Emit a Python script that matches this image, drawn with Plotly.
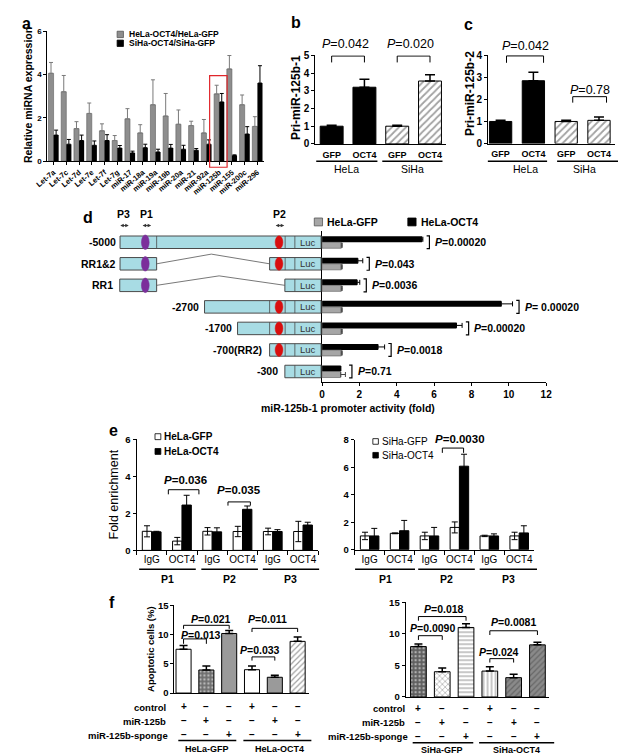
import plotly.graph_objects as go

W, H = 626, 756
FONT = "Liberation Sans, Arial, Helvetica, sans-serif"

# ---------------- data ----------------
# panel a
mirnas = ['Let-7a', 'Let-7c', 'Let-7d', 'Let-7e', 'Let-7f', 'Let-7g', 'miR-17', 'miR-18a',
          'miR-19a', 'miR-19b', 'miR-20a', 'miR-21', 'miR-92a', 'miR-125b', 'miR-155',
          'miR-200c', 'miR-296']
hela_ratio = [4.05, 3.2, 1.5, 2.2, 1.4, 0.95, 1.95, 1.3, 2.6, 2.08, 1.7, 1.64, 1.3, 3.1, 4.25, 2.6, 1.6]
hela_ratio_err = [0.5, 0.75, 0.32, 0.48, 0.32, 0.23, 0.47, 0.38, 1.15, 1.04, 0.66, 0.2, 0.62, 0.4, 0.62, 0.45, 0.45]
siha_ratio = [1.2, 0.78, 0.95, 0.73, 0.95, 0.6, 0.38, 0.62, 0.42, 0.6, 0.55, 0.5, 0.78, 2.73, 0.26, 1.25, 3.6]
siha_ratio_err = [0.23, 0.22, 0.25, 0.2, 0.27, 0.12, 0.08, 0.16, 0.13, 0.17, 0.18, 0.08, 0.2, 0.39, 0.03, 0.34, 0.8]

# panels b and c
bc_conditions = ['HeLa GFP', 'HeLa OCT4', 'SiHa GFP', 'SiHa OCT4']
bc_ticks = ['GFP', 'OCT4', 'GFP', 'OCT4']
pri1_vals = [1.0, 3.2, 1.0, 3.55]
pri1_err = [0.05, 0.45, 0.05, 0.35]
pri2_vals = [1.0, 2.84, 1.0, 1.05]
pri2_err = [0.05, 0.38, 0.05, 0.15]
pri1_p = ['0.042', '0.020']
pri2_p = ['0.042', '0.78']

# panel d
constructs = ['-5000', 'RR1&2', 'RR1', '-2700', '-1700', '-700(RR2)', '-300']
d_gfp = [1.03, 1.03, 1.03, 1.03, 1.03, 1.03, 1.0]
d_gfp_err = [0.05, 0.05, 0.05, 0.05, 0.05, 0.05, 0.25]
d_oct4 = [5.35, 1.92, 1.88, 9.6, 7.2, 3.0, 1.0]
d_oct4_err = [0.05, 0.26, 0.14, 0.6, 0.3, 0.35, 0.0]
d_p = ['0.00020', '0.043', '0.0036', ' 0.00020', '0.00020', '0.0018', '0.71']

# panel e
chip_cats = ['P1 IgG', 'P1 OCT4', 'P2 IgG', 'P2 OCT4', 'P3 IgG', 'P3 OCT4']
chip_ticks = ['IgG', 'OCT4', 'IgG', 'OCT4', 'IgG', 'OCT4']
chip_groups = ['P1', 'P2', 'P3']
hela_gfp_chip = [1.03, 0.5, 1.03, 1.02, 1.02, 1.02]
hela_gfp_chip_err = [0.3, 0.2, 0.2, 0.28, 0.18, 0.55]
hela_oct4_chip = [1.0, 2.45, 1.0, 2.22, 1.02, 1.37]
hela_oct4_chip_err = [0.03, 0.53, 0.22, 0.18, 0.1, 0.15]
siha_gfp_chip = [1.0, 1.19, 1.0, 1.62, 1.0, 1.0]
siha_gfp_chip_err = [0.27, 0.03, 0.27, 0.4, 0.05, 0.27]
siha_oct4_chip = [1.0, 1.38, 1.0, 6.08, 1.0, 1.22]
siha_oct4_chip_err = [0.55, 0.75, 0.62, 0.87, 0.15, 0.52]

# panel f
apo_rows = ['control', 'miR-125b', 'miR-125b-sponge']
apo_hela_cats = ['HeLa-GFP control', 'HeLa-GFP miR-125b', 'HeLa-GFP sponge',
                 'HeLa-OCT4 control', 'HeLa-OCT4 miR-125b', 'HeLa-OCT4 sponge']
apo_siha_cats = ['SiHa-GFP control', 'SiHa-GFP miR-125b', 'SiHa-GFP sponge',
                 'SiHa-OCT4 control', 'SiHa-OCT4 miR-125b', 'SiHa-OCT4 sponge']
apo_hela = [7.5, 3.95, 10.2, 4.0, 2.7, 8.85]
apo_hela_err = [0.65, 0.7, 0.5, 0.65, 0.35, 0.75]
apo_siha = [7.98, 4.0, 11.0, 4.1, 3.06, 8.25]
apo_siha_err = [0.42, 0.6, 0.6, 0.67, 0.52, 0.42]
sign_control = ['+', '\u2212', '\u2212', '+', '\u2212', '\u2212']
sign_mir = ['\u2212', '+', '\u2212', '\u2212', '+', '\u2212']
sign_sponge = ['\u2212', '\u2212', '+', '\u2212', '\u2212', '+']

# ---------------- helpers ----------------
def dx(a, b):
    return [a / W, b / W]

def dy(top, bottom):
    return [1 - bottom / H, 1 - top / H]

def px(x):
    return x / W

def py(y):
    return 1 - y / H

shapes = []
ann = []

def text(x, y, s, size=10, bold=True, xanchor='center', yanchor='middle',
         xref='paper', yref='paper', angle=0, color='black'):
    if xref == 'paper':
        x = px(x)
    if yref == 'paper':
        y = py(y)
    ann.append(dict(x=x, y=y, xref=xref, yref=yref, text=s, showarrow=False,
                    xanchor=xanchor, yanchor=yanchor, textangle=angle, borderpad=0,
                    font=dict(family=FONT, size=size, color=color,
                              weight='bold' if bold else 'normal')))

def darrow(xc, yc, half=5):
    ann.append(dict(x=px(xc + half), y=py(yc), xref='paper', yref='paper', text='',
                    showarrow=True, ax=-2 * half, ay=0, axref='pixel', ayref='pixel',
                    arrowhead=2, arrowside='end+start', arrowsize=0.7, arrowwidth=1,
                    arrowcolor='#333333', standoff=0, startstandoff=0))

def pline(x0, y0, x1, y1, width=1.0, color='black'):
    shapes.append(dict(type='line', xref='paper', yref='paper', layer='above',
                       x0=px(x0), y0=py(y0), x1=px(x1), y1=py(y1),
                       line=dict(color=color, width=width)))

def prect(x0, y0, x1, y1, fill, line='black', width=0.8):
    shapes.append(dict(type='rect', xref='paper', yref='paper', layer='above',
                       x0=px(x0), y0=py(y1), x1=px(x1), y1=py(y0),
                       fillcolor=fill, line=dict(color=line, width=width)))

def bracket(xref, yref, xa, xb, ytop, ybot, width=1.0):
    shapes.append(dict(type='path', xref=xref, yref=yref, layer='above',
                       path=f'M {xa},{ybot} L {xa},{ytop} L {xb},{ytop} L {xb},{ybot}',
                       line=dict(color='black', width=width)))

def yaxis(domain, rng, dtick, anchor, size=9):
    return dict(domain=domain, range=rng, dtick=dtick, tick0=0, anchor=anchor,
                showline=True, linecolor='black', linewidth=1, ticks='outside',
                ticklen=3, tickcolor='black', showgrid=False, zeroline=False,
                tickfont=dict(family=FONT, size=size, weight='bold', color='black'),
                fixedrange=True)

def xcat(domain, rng, anchor, **kw):
    d = dict(domain=domain, range=rng, anchor=anchor, type='category', showline=True,
             linecolor='black', linewidth=1, showgrid=False, zeroline=False,
             fixedrange=True)
    d.update(kw)
    return d

def up_err(err, color='black', width=4, thickness=1.2):
    return dict(type='data', array=err, arrayminus=[0] * len(err), symmetric=False,
                color=color, width=width, thickness=thickness)

fig = go.Figure()

# ---------------- panel a ----------------
fig.add_bar(x=mirnas, y=hela_ratio, xaxis='x', yaxis='y', width=0.4, offset=-0.4,
            marker=dict(color='#8e8e8e', line=dict(color='#5e5e5e', width=0.6)),
            error_y=up_err(hela_ratio_err, '#7a7a7a', 2, 1), showlegend=False)
fig.add_bar(x=mirnas, y=siha_ratio, xaxis='x', yaxis='y', width=0.4, offset=0,
            marker=dict(color='black', line=dict(width=0)),
            error_y=up_err(siha_ratio_err, 'black', 2, 1), showlegend=False)

# ---------------- panel b / c ----------------
bc_colors = ['black', 'black', 'white', 'white']
bc_pattern = dict(shape=['', '', '/', '/'], fgcolor='black', bgcolor=bc_colors,
                  size=5, solidity=0.35)
fig.add_bar(x=bc_conditions, y=pri1_vals, xaxis='x2', yaxis='y2', width=0.7,
            marker=dict(color=bc_colors, line=dict(color='black', width=1), pattern=bc_pattern),
            error_y=up_err(pri1_err, 'black', 5, 1.5), showlegend=False)
fig.add_bar(x=bc_conditions, y=pri2_vals, xaxis='x3', yaxis='y3', width=0.68,
            marker=dict(color=bc_colors, line=dict(color='black', width=1), pattern=bc_pattern),
            error_y=up_err(pri2_err, 'black', 5, 1.5), showlegend=False)

# ---------------- panel d ----------------
fig.add_bar(y=constructs, x=d_oct4, orientation='h', xaxis='x4', yaxis='y4',
            width=0.28, offset=-0.28, marker=dict(color='black', line=dict(width=0)),
            error_x=up_err(d_oct4_err, 'black', 2.5, 1), showlegend=False)
fig.add_bar(y=constructs, x=d_gfp, orientation='h', xaxis='x4', yaxis='y4',
            width=0.28, offset=0, marker=dict(color='#a6a6a6', line=dict(color='#555', width=0.6)),
            error_x=up_err(d_gfp_err, '#444', 2.5, 1), showlegend=False)

# ---------------- panel e ----------------
sym = lambda e: dict(type='data', array=e, symmetric=True, color='black', width=3, thickness=1)
fig.add_bar(x=chip_cats, y=hela_gfp_chip, xaxis='x6', yaxis='y6', width=0.31, offset=-0.31,
            marker=dict(color='white', line=dict(color='black', width=1)),
            error_y=sym(hela_gfp_chip_err), showlegend=False)
fig.add_bar(x=chip_cats, y=hela_oct4_chip, xaxis='x6', yaxis='y6', width=0.31, offset=0,
            marker=dict(color='black', line=dict(color='black', width=1)),
            error_y=sym(hela_oct4_chip_err), showlegend=False)
fig.add_bar(x=chip_cats, y=siha_gfp_chip, xaxis='x7', yaxis='y7', width=0.31, offset=-0.31,
            marker=dict(color='white', line=dict(color='black', width=1)),
            error_y=sym(siha_gfp_chip_err), showlegend=False)
fig.add_bar(x=chip_cats, y=siha_oct4_chip, xaxis='x7', yaxis='y7', width=0.31, offset=0,
            marker=dict(color='black', line=dict(color='black', width=1)),
            error_y=sym(siha_oct4_chip_err), showlegend=False)

# ---------------- panel f ----------------
fL_colors = ['white', '#6e6e6e', '#9a9a9a', 'white', '#9a9a9a', 'white']
fL_pat = dict(shape=['', '.', '', '', '', '/'], bgcolor=fL_colors,
              fgcolor=['black', '#333333', 'black', 'black', 'black', 'black'],
              size=4, solidity=0.3)
fig.add_bar(x=apo_hela_cats, y=apo_hela, xaxis='x8', yaxis='y8', width=0.66,
            marker=dict(color=fL_colors, line=dict(color='black', width=1), pattern=fL_pat),
            error_y=up_err(apo_hela_err, 'black', 4, 1.5), showlegend=False)
fR_colors = ['#5e5e5e', 'white', 'white', 'white', '#8a8a8a', '#8a8a8a']
fR_pat = dict(shape=['.', 'x', '-', '|', '/', '/'], bgcolor=fR_colors,
              fgcolor=['#222222', '#333333', '#8a8a8a', '#8a8a8a', '#555555', '#666666'],
              size=4, solidity=0.3)
fig.add_bar(x=apo_siha_cats, y=apo_siha, xaxis='x9', yaxis='y9', width=0.66,
            marker=dict(color=fR_colors, line=dict(color='black', width=1), pattern=fR_pat),
            error_y=up_err(apo_siha_err, 'black', 4, 1.5), showlegend=False)

# ---------------- axes ----------------
layout_axes = dict(
    xaxis=xcat(dx(28, 251), [-0.5, 16.5], 'y', ticks='outside', ticklen=3, tickcolor='black',
               tickangle=-40, tickfont=dict(family=FONT, size=7.5, weight='bold', color='black')),
    yaxis=yaxis(dy(17.3, 149.5), [0, 6], 2, 'x', 8),
    xaxis2=xcat(dx(304, 439), [-0.5, 3.5], 'y2', ticks='', tickvals=bc_conditions,
                ticktext=bc_ticks, ticklabelstandoff=2, tickangle=0,
                tickfont=dict(family=FONT, size=9, weight='bold', color='black')),
    yaxis2=yaxis(dy(42, 132), [0, 5], 1, 'x2', 10),
    xaxis3=xcat(dx(482, 613), [-0.38, 3.5], 'y3', ticks='', tickvals=bc_conditions,
                ticktext=bc_ticks, ticklabelstandoff=2, tickangle=0,
                tickfont=dict(family=FONT, size=9, weight='bold', color='black')),
    yaxis3=yaxis(dy(41.7, 131.7), [0, 4], 1, 'x3', 10),
    xaxis4=dict(domain=dx(311, 541.7), range=[0, 12], dtick=2, anchor='y4', showline=True,
                linecolor='black', ticks='outside', ticklen=3, tickcolor='black',
                showgrid=False, zeroline=False, fixedrange=True,
                tickfont=dict(family=FONT, size=10, weight='bold', color='black')),
    yaxis4=dict(domain=dy(221, 374.2), range=[len(constructs) - 0.5, -0.5], type='category',
                anchor='x4', showline=True, linecolor='black', showticklabels=False,
                ticks='', showgrid=False, zeroline=False, fixedrange=True),
    xaxis5=dict(domain=dx(0, 311), range=[0, 311], anchor='y4', visible=False, fixedrange=True),
    xaxis6=xcat(dx(120, 307), [-0.5, 5.5], 'y6', ticks='outside', tickson='boundaries',
                ticklen=4, tickcolor='black', tickvals=chip_cats, ticktext=chip_ticks,
                tickangle=0, tickfont=dict(family=FONT, size=10, color='black')),
    yaxis6=yaxis(dy(432.3, 545), [0, 6], 2, 'x6', 9.5),
    xaxis7=xcat(dx(344.6, 529.4), [-0.5, 5.5], 'y7', ticks='outside', tickson='boundaries',
                ticklen=4, tickcolor='black', tickvals=chip_cats, ticktext=chip_ticks,
                tickangle=0, tickfont=dict(family=FONT, size=10, color='black')),
    yaxis7=yaxis(dy(432.7, 544.3), [0, 8], 2, 'x7', 9.5),
    xaxis8=xcat(dx(159, 297.6), [-0.4, 5.5], 'y8', ticks='', showticklabels=False),
    yaxis8=yaxis(dy(601, 690), [0, 15], 5, 'x8', 9.5),
    xaxis9=xcat(dx(397, 545), [-0.54, 5.5], 'y9', ticks='', showticklabels=False),
    yaxis9=yaxis(dy(597.7, 694), [0, 15], 5, 'x9', 9.5),
)

# ---------------- panel a decorations ----------------
text(7, 10, 'a', 16)
text(7.5, 82, 'Relative miRNA expression', 10.5, angle=-90)
prect(100, 17.5, 106.5, 24, '#8e8e8e', '#555')
text(111, 20.8, 'HeLa-OCT4/HeLa-GFP', 8.5, xanchor='left')
prect(100, 26.5, 106.5, 33, 'black')
text(111, 29.5, 'SiHa-OCT4/SiHa-GFP', 8.5, xanchor='left')
shapes.append(dict(type='rect', xref='x', yref='y domain', layer='above',
                   x0=12.25, x1=13.62, y0=-0.047, y1=0.657,
                   line=dict(color='#e0262b', width=1.2), fillcolor='rgba(0,0,0,0)'))

# ---------------- panel b / c decorations ----------------
text(284, 9, 'b', 16)
text(283.5, 85, 'Pri-miR-125b-1', 12, angle=-90)
bracket('x2', 'y2', 0, 1, 4.96, 4.6)
bracket('x2', 'y2', 2, 3, 4.96, 4.6)
text(335.5, 30, f'<i>P</i>={pri1_p[0]}', 12.5, bold=False)
text(402, 30, f'<i>P</i>={pri1_p[1]}', 12.5, bold=False)
pline(305, 149.5, 368, 149.5, 1.5)
pline(373, 149.5, 435, 149.5, 1.5)
text(336.5, 158, 'HeLa', 10.5, bold=False)
text(404, 158, 'SiHa', 10.5, bold=False)

text(462, 11, 'c', 16)
text(463.5, 81, 'Pri-miR-125b-2', 12, angle=-90)
bracket('x3', 'y3', 0.18, 1.31, 3.96, 3.65)
bracket('x3', 'y3', 2.2, 3.23, 2.12, 1.85)
text(520, 33, f'<i>P</i>={pri2_p[0]}', 12.5, bold=False)
text(586.5, 77, f'<i>P</i>={pri2_p[1]}', 12.5, bold=False)
pline(481.7, 149.5, 542.7, 149.5, 1.5)
pline(553, 149.5, 616.7, 149.5, 1.5)
text(520, 158, 'HeLa', 10.5, bold=False)
text(581.7, 158, 'SiHa', 10.5, bold=False)

# ---------------- panel d decorations ----------------
text(70, 207, 'd', 16)
for lab, xx in (('P3', 107), ('P1', 130), ('P2', 267)):
    text(xx, 203, lab, 10.5)
    darrow(xx, 215, 5)
prect(303, 207.3, 311.5, 215.3, '#a6a6a6', '#555')
text(315, 211.3, 'HeLa-GFP', 10.5, xanchor='left')
prect(399.3, 207.3, 407.8, 215.3, 'black')
text(411.7, 211.3, 'HeLa-OCT4', 10.5, xanchor='left')
text(338, 400, 'miR-125b-1 promoter activity (fold)', 10.5)

BOX = '#a8dce4'
EDGE = '#4a4a4a'

def dbox(i, x0, x1):
    shapes.append(dict(type='rect', xref='x5', yref='y4', layer='above', x0=x0, x1=x1,
                       y0=i - 0.29, y1=i + 0.29, fillcolor=BOX, line=dict(color=EDGE, width=1)))

def dsep(i, x):
    shapes.append(dict(type='line', xref='x5', yref='y4', layer='above', x0=x, x1=x,
                       y0=i - 0.29, y1=i + 0.29, line=dict(color=EDGE, width=0.8)))

def dell(i, x, color, hw, hh):
    shapes.append(dict(type='circle', xref='x5', yref='y4', layer='above', x0=x - hw, x1=x + hw,
                       y0=i - hh, y1=i + hh, fillcolor=color, line=dict(color=color, width=0.5)))

def dluc(i):
    text(296.5, i, 'Luc', 9.5, bold=False, xref='x5', yref='y4', color='#333')

def dlink(i, xa, xpeak, xb, ypeak):
    shapes.append(dict(type='path', xref='x5', yref='y4', layer='above',
                       path=f'M {xa},{i} L {xpeak},{ypeak} L {xb},{i}',
                       line=dict(color='#555', width=0.8)))

PURPLE = '#7b2f9b'
RED = '#d80f0f'
label_right = [100, 100, 97, 185, 219, 250, 266.7]
for i, lab in enumerate(constructs):
    text(label_right[i], i, lab, 10.5, xanchor='right', xref='x5', yref='y4')
# -5000
dbox(0, 103, 310); dsep(0, 140.7); dsep(0, 273); dsep(0, 283)
dell(0, 129, PURPLE, 4, 0.34); dell(0, 266.7, RED, 4, 0.3); dluc(0)
# RR1&2
dbox(1, 103, 140.7); dbox(1, 257, 310); dsep(1, 273); dsep(1, 283)
dlink(1, 140.7, 197, 257, 0.55)
dell(1, 129, PURPLE, 4, 0.34); dell(1, 266.7, RED, 4, 0.3); dluc(1)
# RR1
dbox(2, 102.7, 140.7); dbox(2, 272.7, 310); dsep(2, 283)
dlink(2, 140.7, 205, 272.7, 1.56)
dell(2, 129, PURPLE, 4, 0.34); dluc(2)
# -2700
dbox(3, 190, 310); dsep(3, 257); dsep(3, 273); dsep(3, 283)
dell(3, 266.7, RED, 4, 0.3); dluc(3)
# -1700
dbox(4, 224, 310); dsep(4, 257); dsep(4, 273); dsep(4, 283)
dell(4, 266.7, RED, 4, 0.3); dluc(4)
# -700(RR2)
dbox(5, 257, 310); dsep(5, 273); dsep(5, 283)
dell(5, 266.7, RED, 4, 0.3); dluc(5)
# -300
dbox(6, 272.7, 310); dsep(6, 283); dluc(6)

for i, p in enumerate(d_p):
    bx = max(d_oct4[i] + d_oct4_err[i], d_gfp[i] + d_gfp_err[i]) + 0.35
    shapes.append(dict(type='path', xref='x4', yref='y4', layer='above',
                       path=f'M {bx - 0.15},{i - 0.3} L {bx},{i - 0.3} L {bx},{i + 0.3} L {bx - 0.15},{i + 0.3}',
                       line=dict(color='black', width=1.2)))
    text(bx + 0.25, i, f'<i>P</i>={p}', 10.5, xanchor='left', xref='x4', yref='y4')

# ---------------- panel e decorations ----------------
text(96.5, 423, 'e', 16)
text(97, 488, 'Fold enrichment', 12.5, bold=False, angle=-90)
prect(139, 426.5, 145, 432.5, 'white')
text(147.5, 429.5, 'HeLa-GFP', 10, xanchor='left')
prect(139, 441.5, 145, 447.5, 'black')
text(147.5, 444.5, 'HeLa-OCT4', 10, xanchor='left')
bracket('x6', 'y6', 0.55, 1.56, 3.28, 3.03)
text(170, 474, '<i>P</i>=0.036', 11.5)
bracket('x6', 'y6', 2.52, 3.26, 2.62, 2.42)
text(225, 484, '<i>P</i>=0.035', 11.5)
for (x0, x1), g in zip(((122.7, 181), (186.7, 245), (250, 308)), chip_groups):
    pline(x0, 564.3, x1, 564.3, 1.5)
    text((x0 + x1) / 2, 574.5, g, 10.5)

prect(363.3, 431.5, 369, 437.2, 'white')
text(371.7, 434.3, 'SiHa-GFP', 10, bold=False, xanchor='left')
prect(363.3, 445.5, 369, 451.2, 'black')
text(371.7, 448.3, 'SiHa-OCT4', 10, bold=False, xanchor='left')
bracket('x7', 'y7', 2.43, 3.14, 7.4, 7.05)
text(452.7, 431.7, '<i>P</i>=0.0030', 11.5)
for (x0, x1), g in zip(((345, 406.7), (410, 468.3), (473.3, 532.3)), chip_groups):
    pline(x0, 564.3, x1, 564.3, 1.5)
    text((x0 + x1) / 2, 574.5, g, 10.5)

# ---------------- panel f decorations ----------------
text(94.5, 598, 'f', 16)
text(134.5, 645.5, 'Apoptotic cells (%)', 9.5, angle=-90)
bracket('x8', 'y8', 0, 2, 11.6, 11.0)
text(196.7, 614.3, '<i>P</i>=0.021', 10.5)
bracket('x8', 'y8', 0, 1, 9.27, 8.43)
text(186.3, 631, '<i>P</i>=0.013', 10.5)
bracket('x8', 'y8', 3, 5, 11.08, 10.45)
text(255, 614.3, '<i>P</i>=0.011', 10.5)
bracket('x8', 'y8', 3, 4, 6.19, 5.56)
text(246.7, 646.7, '<i>P</i>=0.033', 10.5)
row_y_L = [704, 717.5, 732]
row_right_L = [151, 151, 153]
for r, (lab, signs) in enumerate(zip(apo_rows, (sign_control, sign_mir, sign_sponge))):
    text(row_right_L[r], row_y_L[r] + 1, lab, 9.5, xanchor='right')
    for j, s in enumerate(signs):
        text(j, py(row_y_L[r]), s, 10, xref='x8', yref='paper_raw')
pline(163, 738.3, 222.7, 738.3, 1.5)
pline(230, 738.3, 300, 738.3, 1.5)
text(192.7, 747, 'HeLa-GFP', 9)
text(266.7, 747, 'HeLa-OCT4', 9)

bracket('x9', 'y9', 0, 2, 12.73, 12.07)
text(436.7, 604.3, '<i>P</i>=0.018', 10.5)
bracket('x9', 'y9', 0, 1, 9.7, 9.03)
text(425, 624.3, '<i>P</i>=0.0090', 10.5)
bracket('x9', 'y9', 3, 5, 10.48, 9.81)
text(508.3, 618.3, '<i>P</i>=0.0081', 10.5)
bracket('x9', 'y9', 3, 4, 6.07, 5.45)
text(493.3, 648.3, '<i>P</i>=0.024', 10.5)
row_y_R = [706, 720, 734]
row_right_R = [397.3, 397, 400.7]
for r, (lab, signs) in enumerate(zip(apo_rows, (sign_control, sign_mir, sign_sponge))):
    text(row_right_R[r], row_y_R[r], lab, 9.5, xanchor='right')
    for j, s in enumerate(signs):
        text(j, py(row_y_R[r]), s, 10, xref='x9', yref='paper_raw')
pline(404.3, 740.5, 466.7, 740.5, 1.5)
pline(472.7, 740.5, 550, 740.5, 1.5)
text(435, 748, 'SiHa-GFP', 9)
text(511.7, 748, 'SiHa-OCT4', 9)

for a in ann:
    if a['yref'] == 'paper_raw':
        a['yref'] = 'paper'

fig.update_layout(
    width=W, height=H, margin=dict(l=0, r=0, t=0, b=0),
    paper_bgcolor='white', plot_bgcolor='white', barmode='overlay',
    font=dict(family=FONT, color='black'), showlegend=False,
    shapes=shapes, annotations=ann, **layout_axes)

fig.write_html('out.html')
